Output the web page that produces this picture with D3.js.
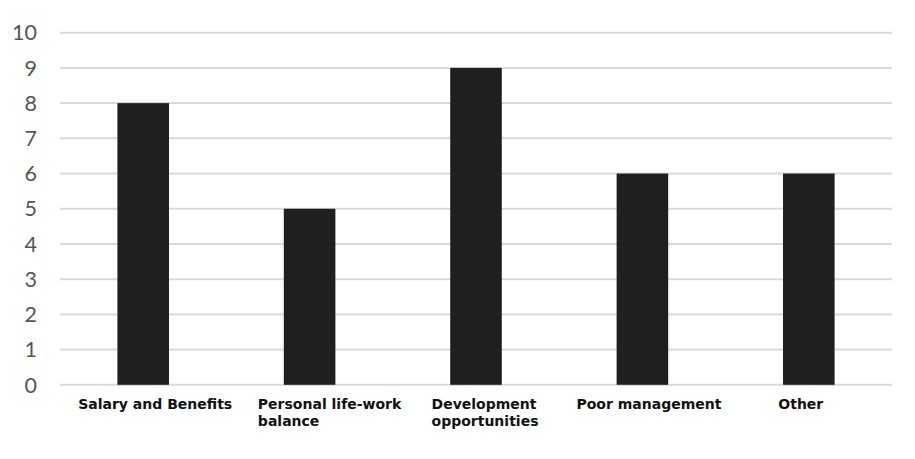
<!DOCTYPE html>
<html><head><meta charset="utf-8">
<script src="https://cdn.jsdelivr.net/npm/d3@7"></script>
<style>html,body{margin:0;padding:0;background:#fff;}</style>
</head><body>
<svg id="c" width="915" height="459"></svg>
<script>
const categories = [["Salary and Benefits"], ["Personal life-work", "balance"], ["Development", "opportunities"], ["Poor management"], ["Other"]];
const values = [8, 5, 9, 6, 6];
const yTicks = [0,1,2,3,4,5,6,7,8,9,10];

(function(){
const svg = d3.select("#c");
const mLeft = 60, mRight = 892, mTop = 32.7, mBottom = 384.8;
const x = d3.scaleBand().domain(categories.map((d,i)=>i)).range([mLeft, mRight]).paddingInner(0.69).paddingOuter(0.345);
const y = d3.scaleLinear().domain([0, 10]).range([mBottom, mTop]);
// horizontal nudges of the label blocks relative to their bar centre (layout only)
const labelNudge = [12, 20, 9, 6.5, -8];

// gridlines
svg.append("g").selectAll("line").data(yTicks).join("line")
  .attr("x1", mLeft).attr("x2", mRight)
  .attr("y1", d=>y(d)).attr("y2", d=>y(d))
  .attr("stroke", "#d9d9d9").attr("stroke-width", 2);

// y tick labels
svg.append("g").selectAll("text").data(yTicks).join("text")
  .attr("x", 37).attr("y", d=>y(d)).attr("dy", "0.36em")
  .attr("text-anchor", "end")
  .attr("font-family", "Lato, 'Open Sans', sans-serif").attr("font-size", 21.5)
  .attr("fill", "#555").text(d=>d);

// bars
svg.append("g").selectAll("rect").data(values).join("rect")
  .attr("x", (d,i)=>x(i)).attr("width", x.bandwidth())
  .attr("y", d=>y(d)).attr("height", d=>y(0)-y(d))
  .attr("fill", "#1f1f1f");

// category labels
const lab = svg.append("g").selectAll("text").data(categories).join("text")
  .attr("font-family", "'DejaVu Sans', Verdana, sans-serif").attr("font-weight", "bold")
  .attr("font-size", 14).attr("fill", "#111");
lab.each(function(lines, i){
  const t = d3.select(this);
  let w = 0;
  lines.forEach((l, j) => {
    const ts = t.append("tspan").attr("y", 409 + j*17).text(l);
    w = Math.max(w, ts.node().getComputedTextLength());
  });
  const cx = x(i) + x.bandwidth()/2;
  t.selectAll("tspan").attr("x", cx - w/2 + labelNudge[i]);
});
})();
</script>
</body></html>
